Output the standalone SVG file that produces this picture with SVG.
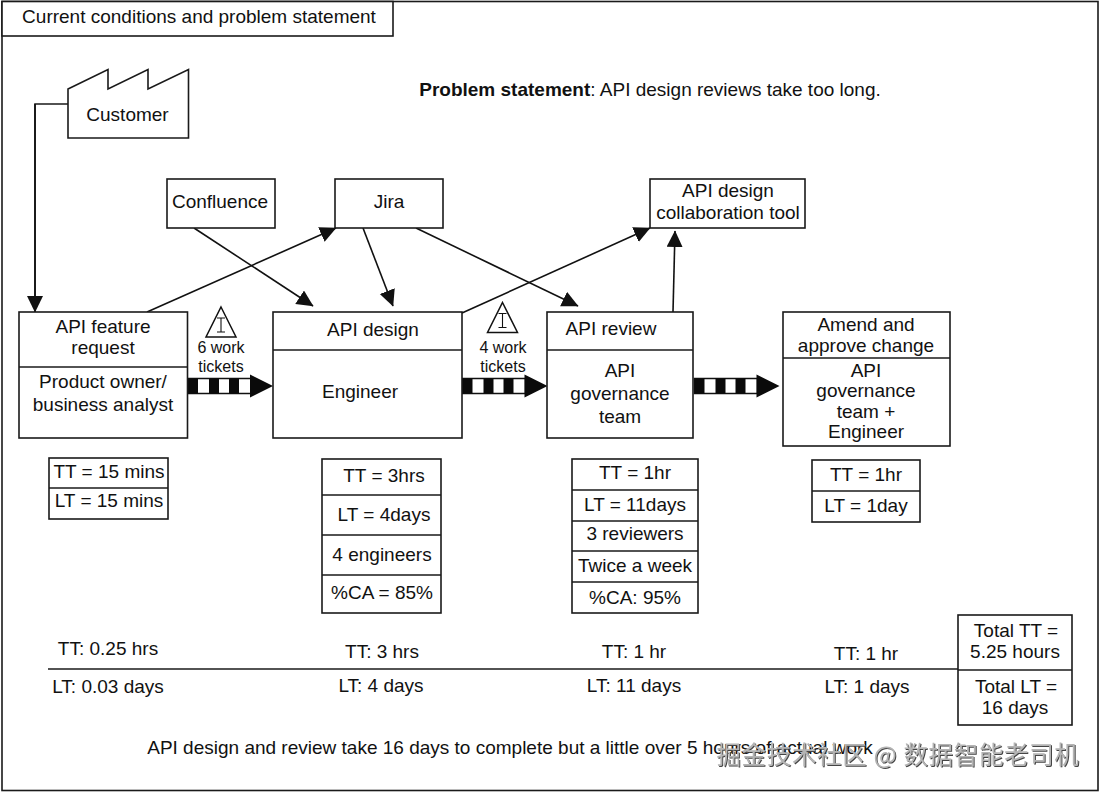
<svg xmlns="http://www.w3.org/2000/svg" width="1100" height="792" viewBox="0 0 1100 792">
<style>
text{font-family:"Liberation Sans",Arial,sans-serif;font-size:19px;fill:#111;text-anchor:middle}
.b{fill:#fff;stroke:#1a1a1a;stroke-width:1.6}
.l{fill:none;stroke:#1a1a1a;stroke-width:1.6}
.c{fill:none;stroke:#111;stroke-width:1.6;marker-end:url(#a)}
text.s{font-size:16px}
text.w{font-family:"Noto Sans CJK SC","Liberation Sans",sans-serif;font-size:24.5px;fill:#b4b4b4;letter-spacing:.65px;filter:url(#sh)}
</style>
<defs>
<filter id="sh" x="-5%" y="-20%" width="110%" height="140%"><feDropShadow dx="1" dy="1" stdDeviation=".4" flood-color="#444"/></filter>
<marker id="a" markerUnits="userSpaceOnUse" markerWidth="18" markerHeight="18" refX="16" refY="8" orient="auto"><path d="M0 0L16.500 8L0 16Z" fill="#111"/></marker>
<g id="push">
<rect x="0" y="-7.500" width="63" height="15" fill="#fff" stroke="#111" stroke-width="1.5"/>
<path d="M0-7.500h10v15H0ZM21-7.500h10v15H21ZM41-7.500h10v15H41Z" fill="#0a0a0a"/>
<path d="M62-7.500h1v15h-1ZM62-11.500L85 0L62 11.500Z" fill="#0a0a0a"/>
</g>
<g id="inv"><path d="M0-15L15 15H-15Z" fill="#fff" stroke="#111" stroke-width="1.5"/><path d="M-4-4H4M0-4V10M-4 10H4" stroke="#111" stroke-width="1.1" fill="none"/></g>
</defs>
<rect width="1100" height="792" fill="#fff"/>
<rect id="frame" x="2" y="1.500" width="1096" height="789" class="l"/>
<g id="title"><rect x="2" y="1.500" width="391" height="34.500" class="b"/><text x="199" y="23">Current conditions and problem statement</text></g>
<g id="problem"><text x="650" y="96"><tspan font-weight="bold">Problem statement</tspan>: API design reviews take too long.</text></g>

<g id="connectors">
<path class="l" d="M68 104H35V296"/>
<path class="c" d="M35 104V312"/>
<path class="c" d="M147 312L336 228"/>
<path class="c" d="M194 228L313 306"/>
<path class="c" d="M363 228L393 306"/>
<path class="c" d="M416 228L578 306"/>
<path class="c" d="M462 313L650 228"/>
<path class="c" d="M673 312L675 231"/>
<use href="#push" x="188" y="386"/>
<use href="#push" x="462.500" y="386"/>
<use href="#push" x="694.500" y="386"/>
</g>

<g id="customer"><path class="b" d="M68 89L108 69.500V89L148 69.500V89L188.500 69.500V138H68Z"/><text x="127.500" y="121">Customer</text></g>
<g id="confluence"><rect class="b" x="167" y="179" width="108" height="49"/><text x="220" y="208">Confluence</text></g>
<g id="jira"><rect class="b" x="335" y="179" width="108" height="49"/><text x="389" y="208">Jira</text></g>
<g id="tool"><rect class="b" x="650" y="179" width="155" height="49"/><text x="728" y="197">API design</text><text x="728" y="219">collaboration tool</text></g>

<g id="inv1"><use href="#inv" x="221" y="322"/><text class="s" x="221" y="353">6 work</text><text class="s" x="221" y="372">tickets</text></g>
<g id="inv2"><use href="#inv" x="502.500" y="317.500"/><text class="s" x="503" y="353">4 work</text><text class="s" x="503" y="372">tickets</text></g>

<g id="step1"><rect class="b" x="19" y="312" width="168.500" height="126"/><path class="l" d="M19 367H187"/><text x="103" y="333">API feature</text><text x="103" y="354">request</text><text x="103" y="388">Product owner/</text><text x="103" y="411">business analyst</text></g>
<g id="step2"><rect class="b" x="273" y="312" width="189" height="126"/><path class="l" d="M273 350H462"/><text x="373" y="336">API design</text><text x="360" y="398">Engineer</text></g>
<g id="step3"><rect class="b" x="547" y="312" width="146" height="126"/><path class="l" d="M547 350H693"/><text x="611" y="335">API review</text><text x="620" y="377">API</text><text x="620" y="400">governance</text><text x="620" y="423">team</text></g>
<g id="step4"><rect class="b" x="783" y="312" width="167" height="134"/><path class="l" d="M783 358H950"/><text x="866" y="331">Amend and</text><text x="866" y="352">approve change</text><text x="866" y="377">API</text><text x="866" y="397">governance</text><text x="866" y="418">team +</text><text x="866" y="438">Engineer</text></g>

<g id="data1"><rect class="b" x="49" y="458" width="119" height="61"/><path class="l" d="M49 488H168"/><text x="109" y="478">TT = 15 mins</text><text x="109" y="507">LT = 15 mins</text></g>
<g id="data2"><rect class="b" x="322" y="459" width="119" height="154"/><path class="l" d="M322 495H441M322 535H441M322 575H441"/><text x="384" y="482">TT = 3hrs</text><text x="384" y="521">LT = 4days</text><text x="382" y="561">4 engineers</text><text x="382" y="599">%CA = 85%</text></g>
<g id="data3"><rect class="b" x="572" y="459" width="126" height="154"/><path class="l" d="M572 490H698M572 521H698M572 551H698M572 582H698"/><text x="635" y="479">TT = 1hr</text><text x="635" y="511">LT = 11days</text><text x="635" y="540">3 reviewers</text><text x="635" y="572">Twice a week</text><text x="635" y="604">%CA: 95%</text></g>
<g id="data4"><rect class="b" x="812" y="460" width="108" height="62"/><path class="l" d="M812 491H920"/><text x="866" y="481">TT = 1hr</text><text x="866" y="512">LT = 1day</text></g>

<g id="timeline"><path class="l" d="M48 669H958"/>
<text x="108" y="655">TT: 0.25 hrs</text><text x="108" y="693">LT: 0.03 days</text>
<text x="382" y="658">TT: 3 hrs</text><text x="381" y="692">LT: 4 days</text>
<text x="634" y="658">TT: 1 hr</text><text x="634" y="692">LT: 11 days</text>
<text x="866" y="660">TT: 1 hr</text><text x="867" y="693">LT: 1 days</text></g>
<g id="totals"><rect class="b" x="958" y="615" width="114" height="110"/><path class="l" d="M958 670H1072"/><text x="1016" y="637">Total TT =</text><text x="1015" y="658">5.25 hours</text><text x="1016" y="693">Total LT =</text><text x="1015" y="714">16 days</text></g>
<text id="summary" x="510" y="754">API design and review take 16 days to complete but a little over 5 hours of actual work</text>
<text id="watermark" class="w" x="898" y="764">掘金技术社区 @ 数据智能老司机</text>
</svg>
